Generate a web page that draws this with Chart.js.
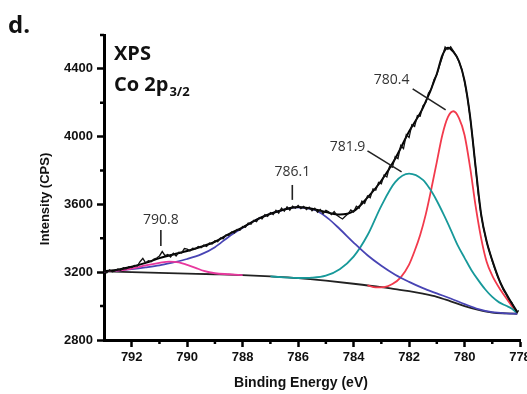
<!DOCTYPE html>
<html>
<head>
<meta charset="utf-8">
<script src="https://cdn.jsdelivr.net/npm/chart.js@4.4.1/dist/chart.umd.min.js"></script>
<style>
  html, body { margin: 0; padding: 0; background: #fff; }
  #wrap { width: 527px; height: 394px; position: relative; }
</style>
</head>
<body>
<div id="wrap"><canvas id="xps-co"></canvas></div>
<script>
// measured spectrum (binding energy in eV, intensity in CPS)
var rawEnergy = [793.0,792.9,792.8,792.7,792.6,792.5,792.4,792.3,792.2,792.1,792.0,791.9,791.8,791.7,791.6,791.5,791.4,791.3,791.2,791.1,
  791.0,790.9,790.8,790.7,790.6,790.5,790.4,790.3,790.2,790.1,790.0,789.9,789.8,789.7,789.6,789.5,789.4,789.3,789.2,789.1,
  789.0,788.9,788.8,788.7,788.6,788.5,788.4,788.3,788.2,788.1,788.0,787.9,787.8,787.7,787.6,787.5,787.4,787.3,787.2,787.1,
  787.0,786.9,786.8,786.7,786.6,786.5,786.4,786.3,786.2,786.1,786.0,785.9,785.8,785.7,785.6,785.5,785.4,785.3,785.2,785.1,
  785.0,784.9,784.8,784.7,784.6,784.5,784.4,784.3,784.2,784.1,784.0,783.9,783.8,783.7,783.6,783.5,783.4,783.3,783.2,783.1,
  783.0,782.9,782.8,782.7,782.6,782.5,782.4,782.3,782.2,782.1,782.0,781.9,781.8,781.7,781.6,781.5,781.4,781.3,781.2,781.1,
  781.0,780.9,780.8,780.7,780.6,780.5,780.4,780.3,780.2,780.1,780.0,779.9,779.8,779.7,779.6,779.5,779.4,779.3,779.2,779.1,
  779.0,778.9,778.8,778.7,778.6,778.5,778.4,778.3,778.2,778.1,778.05];
var rawCounts = [3210,3196,3214,3203,3208,3219,3212,3226,3221,3233,3228,3240,3236,3262,3282,3255,3268,3262,3278,3284,
  3296,3322,3298,3304,3290,3312,3296,3318,3314,3340,3336,3326,3342,3338,3352,3344,3360,3352,3372,3366,
  3386,3380,3402,3398,3420,3418,3438,3432,3452,3448,3470,3466,3490,3484,3506,3498,3522,3514,3540,3530,
  3552,3540,3566,3548,3578,3560,3586,3566,3590,3578,3594,3576,3588,3570,3584,3562,3578,3554,3570,3546,
  3565,3556,3540,3558,3536,3524,3514,3530,3544,3568,3556,3590,3578,3620,3606,3650,3640,3692,3684,3730,
  3722,3774,3762,3826,3820,3882,3870,3948,3930,4012,3995,4070,4060,4124,4120,4182,4200,4258,4280,4338,
  4366,4420,4470,4530,4515,4530,4505,4478,4442,4398,4326,4236,4118,3976,3816,3656,3536,3448,3376,3322,
  3266,3218,3172,3138,3096,3072,3040,3022,2988,2962,2975];

// fitted envelope
var envEnergy = [793,792.5,792,791.5,791,790.5,790,789.5,789,788.5,788,787.5,787,786.5,786,785.5,785,784.5,784,783.5,
  783,782.5,782,781.5,781,780.8,780.6,780.4,780.2,780,779.8,779.6,779.4,779.2,779,778.7,778.4,778.1];
var envCounts = [3205,3215,3232,3255,3283,3305,3325,3350,3380,3425,3465,3510,3545,3570,3585,3575,3555,3540,3560,3640,
  3740,3870,4030,4170,4370,4480,4525,4500,4445,4330,4120,3820,3540,3380,3270,3135,3045,2965];

// Shirley background
var bgEnergy = [793,792,791,790,789,788,787,786,785,784,783,782.5,782,781.5,781,780.5,780,779.5,779,778.5,778.1];
var bgCounts = [3205,3200,3196,3192,3188,3183,3175,3165,3150,3132,3112,3100,3088,3073,3055,3028,3000,2978,2962,2957,2955];

// component peaks
var pinkEnergy = [793,792.5,792,791.5,791,790.65,790.3,790,789.7,789.4,789,788.5,788];
var pinkCounts = [3205,3210,3222,3240,3255,3263,3258,3243,3226,3208,3194,3188,3183];

var blueEnergy = [793,792.5,792,791.5,791,790.5,790,789.5,789,788.5,788,787.5,787,786.5,786.1,785.7,785.3,784.9,784.5,784,
  783.5,783,782.5,782,781.5,781,780.5,780,779.5,779,778.5,778.1];
var blueCounts = [3205,3210,3218,3228,3240,3258,3278,3305,3348,3410,3462,3510,3545,3570,3583,3578,3560,3515,3455,3375,
  3300,3238,3185,3143,3106,3075,3045,3012,2982,2964,2957,2955];

var tealEnergy = [787,786.5,786,785.5,785,784.5,784,783.5,783,782.5,782,781.5,781.25,781,780.75,780.5,780.25,780,
  779.75,779.5,779.25,779,778.75,778.5,778.3,778.1];
var tealCounts = [3175,3170,3166,3168,3180,3218,3292,3418,3592,3732,3782,3745,3692,3622,3540,3452,3360,3285,
  3212,3152,3098,3054,3022,3002,2986,2958];

var redEnergy = [783.5,783.2,782.9,782.6,782.3,782,781.8,781.6,781.4,781.2,781,780.8,780.6,780.4,780.2,780,779.8,779.6,779.4,
  779.2,779,778.7,778.4,778.1];
var redCounts = [3122,3110,3112,3130,3170,3245,3325,3420,3540,3690,3850,4010,4115,4150,4110,4010,3820,3590,3400,
  3260,3180,3095,3025,2958];

var peakLabels = ['790.8', '786.1', '781.9', '780.4'];

function pts(xs, ys) {
  return xs.map(function (x, i) { return { x: x, y: ys[i] }; });
}

// label anchors in data units: text centre, then leader line start/end
var labelAnchors = [
  { t: [790.95, 3508], a: [790.95, 3449], b: [790.95, 3355] },
  { t: [786.21, 3792], a: [786.21, 3715], b: [786.21, 3627] },
  { t: [784.22, 3939], a: [783.50, 3916], b: [782.27, 3792] },
  { t: [782.63, 4335], a: [781.87, 4282], b: [780.68, 4158] }
];

var extras = {
  id: 'extras',
  afterDraw: function (chart) {
    var ctx = chart.ctx, xs = chart.scales.x, ys = chart.scales.y;
    ctx.save();
    // minor ticks
    ctx.strokeStyle = '#000';
    ctx.lineWidth = 2.5;
    ctx.beginPath();
    for (var v = 3000; v <= 4600; v += 400) {
      var py = ys.getPixelForValue(v);
      ctx.moveTo(chart.chartArea.left - 4, py);
      ctx.lineTo(chart.chartArea.left, py);
    }
    for (var e = 779; e <= 791; e += 2) {
      var px = xs.getPixelForValue(e);
      ctx.moveTo(px, chart.chartArea.bottom);
      ctx.lineTo(px, chart.chartArea.bottom + 4);
    }
    ctx.stroke();

    // peak labels and leader lines
    ctx.font = '14px "Open Sans"';
    ctx.fillStyle = '#333';
    ctx.textAlign = 'center';
    ctx.textBaseline = 'middle';
    ctx.lineWidth = 1.6;
    ctx.strokeStyle = '#222';
    labelAnchors.forEach(function (l, i) {
      ctx.fillText(peakLabels[i], xs.getPixelForValue(l.t[0]), ys.getPixelForValue(l.t[1]));
      ctx.beginPath();
      ctx.moveTo(xs.getPixelForValue(l.a[0]), ys.getPixelForValue(l.a[1]));
      ctx.lineTo(xs.getPixelForValue(l.b[0]), ys.getPixelForValue(l.b[1]));
      ctx.stroke();
    });

    // panel letter and caption
    ctx.fillStyle = '#111';
    ctx.textAlign = 'left';
    ctx.textBaseline = 'alphabetic';
    ctx.font = 'bold 24px "Open Sans"';
    ctx.fillText('d.', 8, 33);
    ctx.font = 'bold 20px "Open Sans"';
    ctx.fillText('XPS', 114, 60);
    ctx.fillText('Co 2p', 114, 91);
    var w = ctx.measureText('Co 2p').width;
    ctx.font = 'bold 13px "Open Sans"';
    ctx.fillText('3/2', 114 + w + 1, 96);

    // axis titles
    ctx.font = 'bold 14px "Liberation Sans"';
    ctx.textAlign = 'center';
    ctx.textBaseline = 'middle';
    ctx.fillText('Binding Energy (eV)', 301, 383);
    ctx.translate(45, 199);
    ctx.rotate(-Math.PI / 2);
    ctx.font = 'bold 13px "Liberation Sans"';
    ctx.fillText('Intensity (CPS)', 0, 0);
    ctx.restore();
  }
};

var smooth = { cubicInterpolationMode: 'monotone', borderWidth: 1.8 };

var chartEl = document.getElementById('xps-co');
var chart = new Chart(chartEl, {
  type: 'line',
  data: {
    datasets: [
      { label: 'raw', data: pts(rawEnergy, rawCounts), borderColor: '#111', borderWidth: 1.3, tension: 0 },
      Object.assign({ label: 'envelope', data: pts(envEnergy, envCounts), borderColor: '#000' }, smooth, { borderWidth: 2 }),
      Object.assign({ label: '790.8', data: pts(pinkEnergy, pinkCounts), borderColor: '#e8389e' }, smooth),
      Object.assign({ label: '786.1', data: pts(blueEnergy, blueCounts), borderColor: '#4844b4' }, smooth),
      Object.assign({ label: '781.9', data: pts(tealEnergy, tealCounts), borderColor: '#17999a' }, smooth),
      Object.assign({ label: '780.4', data: pts(redEnergy, redCounts), borderColor: '#f23a4c' }, smooth),
      Object.assign({ label: 'background', data: pts(bgEnergy, bgCounts), borderColor: '#222' }, smooth)
    ]
  },
  options: {
    responsive: true,
    maintainAspectRatio: false,
    animation: false,
    events: [],
    elements: { point: { radius: 0 } },
    layout: { padding: { top: 35, right: 7, left: 0, bottom: 0 } },
    plugins: { legend: { display: false }, tooltip: { enabled: false } },
    scales: {
      x: {
        type: 'linear',
        reverse: true,
        min: 778,
        max: 793,
        border: { color: '#000', width: 3 },
        grid: { drawOnChartArea: false, tickLength: 7, tickWidth: 2.5,
          tickColor: function (c) { return c.tick.value % 2 === 0 ? '#000' : 'rgba(0,0,0,0)'; } },
        ticks: {
          stepSize: 1, autoSkip: false, maxRotation: 0, padding: 3, maxTicksLimit: 100,
          color: '#111', font: { family: '"Liberation Sans"', size: 13, weight: 'bold' },
          callback: function (v) { return v % 2 === 0 ? String(v) : ''; }
        },
        afterFit: function (s) { s.height = 54; s.paddingLeft = 0; s.paddingRight = 0; }
      },
      y: {
        min: 2800,
        max: 4600,
        border: { color: '#000', width: 3 },
        grid: { drawOnChartArea: false, tickLength: 7, tickWidth: 2.5,
          tickColor: function (c) { return c.tick.value % 400 === 0 ? '#000' : 'rgba(0,0,0,0)'; } },
        ticks: {
          stepSize: 200, padding: 4,
          color: '#111', font: { family: '"Liberation Sans"', size: 13, weight: 'bold' },
          callback: function (v) { return v % 400 === 0 ? String(v) : ''; }
        },
        afterFit: function (s) { s.width = 104; s.paddingTop = 0; s.paddingBottom = 0; }
      }
    }
  },
  plugins: [extras]
});
</script>
</body>
</html>
